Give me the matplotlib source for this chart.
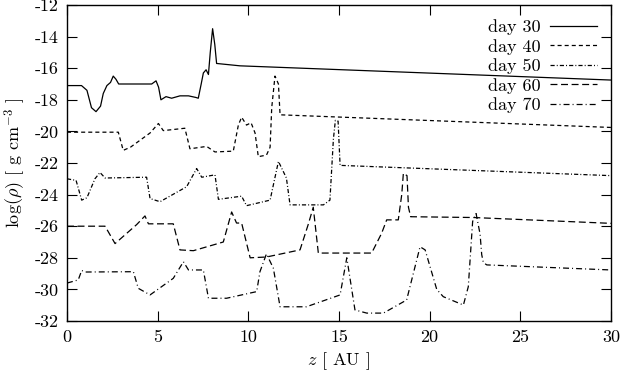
import matplotlib
matplotlib.use("Agg")
import matplotlib.pyplot as plt

plt.rcParams['font.family'] = ['cmr10', 'DejaVu Serif']
plt.rcParams['mathtext.fontset'] = 'cm'
plt.rcParams['axes.unicode_minus'] = False
plt.rcParams['axes.formatter.use_mathtext'] = True
plt.rcParams['lines.scale_dashes'] = False

# ---- data ----
z30 = [0, 0.8, 1.1, 1.35, 1.6, 1.85, 2.0, 2.2, 2.4, 2.55, 2.7, 2.85, 4.67, 4.91, 5.05, 5.18,
       5.46, 5.77, 6.23, 6.7, 7.1, 7.24, 7.4, 7.52, 7.67, 7.8, 7.9, 8.03, 8.15, 8.25, 9.54, 30]
y30 = [-17.1, -17.1, -17.4, -18.5, -18.75, -18.4, -17.6, -17.1, -16.9, -16.5, -16.7, -17.0,
       -17.0, -16.8, -17.2, -18.0, -17.8, -17.9, -17.75, -17.75, -17.85, -17.9, -17.0, -16.3,
       -16.1, -16.4, -15.0, -13.5, -14.5, -15.7, -15.85, -16.75]

z40 = [0, 2.83, 3.1, 3.5, 4.58, 5.04, 5.31, 6.5, 6.78, 7.7, 8.16, 9.17, 9.45, 9.63, 9.9,
       10.15, 10.37, 10.55, 11.0, 11.2, 11.29, 11.47, 11.66, 11.75, 30]
y40 = [-20.05, -20.05, -21.2, -21.0, -20.1, -19.5, -19.95, -19.8, -21.1, -20.95, -21.3,
       -21.25, -19.6, -19.1, -19.6, -19.45, -20.1, -21.6, -21.5, -21.0, -18.5, -16.5,
       -17.0, -18.95, -19.75]

z50 = [0, 0.5, 0.81, 1.1, 1.54, 1.82, 2.1, 4.39, 4.58, 5.13, 6.6, 7.15, 7.43, 8.16, 8.35,
       9.63, 9.9, 11.2, 11.66, 12.1, 12.3, 14.14, 14.5, 14.69, 14.8, 14.95, 15.06, 30]
y50 = [-23.0, -23.1, -24.35, -24.2, -23.0, -22.6, -22.95, -22.9, -24.25, -24.45, -23.5,
       -22.35, -22.9, -22.75, -24.3, -24.1, -24.7, -24.35, -21.9, -22.95, -24.65, -24.65,
       -24.35, -20.5, -19.3, -19.35, -22.15, -22.8]

z60 = [0, 2.1, 2.65, 3.84, 4.3, 4.49, 5.86, 6.23, 6.97, 8.62, 9.08, 9.35, 9.63, 10.1, 11.0,
       12.85, 13.3, 13.58, 13.86, 16.8, 17.35, 17.63, 18.27, 18.46, 18.55, 18.75, 18.83,
       18.95, 22.4, 30]
y60 = [-26.0, -26.0, -27.1, -25.9, -25.35, -25.85, -25.85, -27.5, -27.55, -27.0, -25.1,
       -25.8, -25.8, -28.0, -27.95, -27.5, -25.9, -24.8, -27.7, -27.7, -26.45, -25.6, -25.6,
       -24.0, -22.65, -22.8, -24.8, -25.4, -25.45, -25.82]

z70 = [0, 0.62, 0.81, 1.0, 3.66, 3.93, 4.58, 5.86, 6.42, 6.7, 7.52, 7.8, 8.8, 10.46,
       10.64, 11.0, 11.38, 11.75, 13.2, 15.06, 15.43, 15.88, 16.53, 17.45, 18.73, 19.47,
       19.75, 20.39, 20.75, 21.86, 22.13, 22.37, 22.56, 22.78, 22.87, 22.96, 23.15, 30]
y70 = [-29.6, -29.4, -28.8, -28.9, -28.88, -29.93, -30.35, -29.3, -28.25, -28.77, -28.77,
       -30.56, -30.56, -30.14, -28.88, -27.75, -28.66, -31.1, -31.1, -30.35, -28.0, -31.3,
       -31.5, -31.5, -30.67, -27.3, -27.5, -30.0, -30.46, -30.99, -29.83, -25.7, -25.2,
       -26.5, -27.8, -28.3, -28.45, -28.77]

labels = ['day 30', 'day 40', 'day 50', 'day 60', 'day 70']
xticks = [0, 5, 10, 15, 20, 25, 30]
yticks = [-32, -30, -28, -26, -24, -22, -20, -18, -16, -14, -12]

fs = 13

fig = plt.figure(figsize=(6.22, 3.78), dpi=100)
ax = fig.add_axes([67/622, 1 - 321/378, 544/622, 316/378])

lw = 0.9
ax.plot(z30, y30, color='black', lw=lw, label=labels[0])
ax.plot(z40, y40, color='black', lw=lw, dashes=(2.9, 2.2), label=labels[1])
ax.plot(z50, y50, color='black', lw=lw, dashes=(3.0, 1.5, 0.7, 1.5), label=labels[2])
ax.plot(z60, y60, color='black', lw=lw, dashes=(5.0, 2.6), label=labels[3])
ax.plot(z70, y70, color='black', lw=lw, dashes=(4.3, 2.2, 0.7, 2.2), label=labels[4])

ax.set_xlim(0, 30)
ax.set_ylim(-32, -12)
ax.set_xticks(xticks)
ax.set_xticklabels([str(t) for t in xticks])
ax.set_yticks(yticks)
ax.set_yticklabels([str(t) for t in yticks])
ax.tick_params(direction='in', length=7, width=0.8, top=True, right=True,
               labelsize=fs, pad=6)
for s in ax.spines.values():
    s.set_linewidth(1.0)

ax.set_xlabel(r'$z$ [ AU ]', fontsize=fs, labelpad=4)
ax.set_ylabel(r'$\log(\rho)$ [ g cm$^{-3}$ ]', fontsize=fs, labelpad=5)

leg = ax.legend(loc='upper right', frameon=False, markerfirst=False, fontsize=fs,
                handlelength=2.6, labelspacing=0.2, borderaxespad=0.5,
                borderpad=0.3, handletextpad=0.5)

fig.savefig('out.png', dpi=100)
